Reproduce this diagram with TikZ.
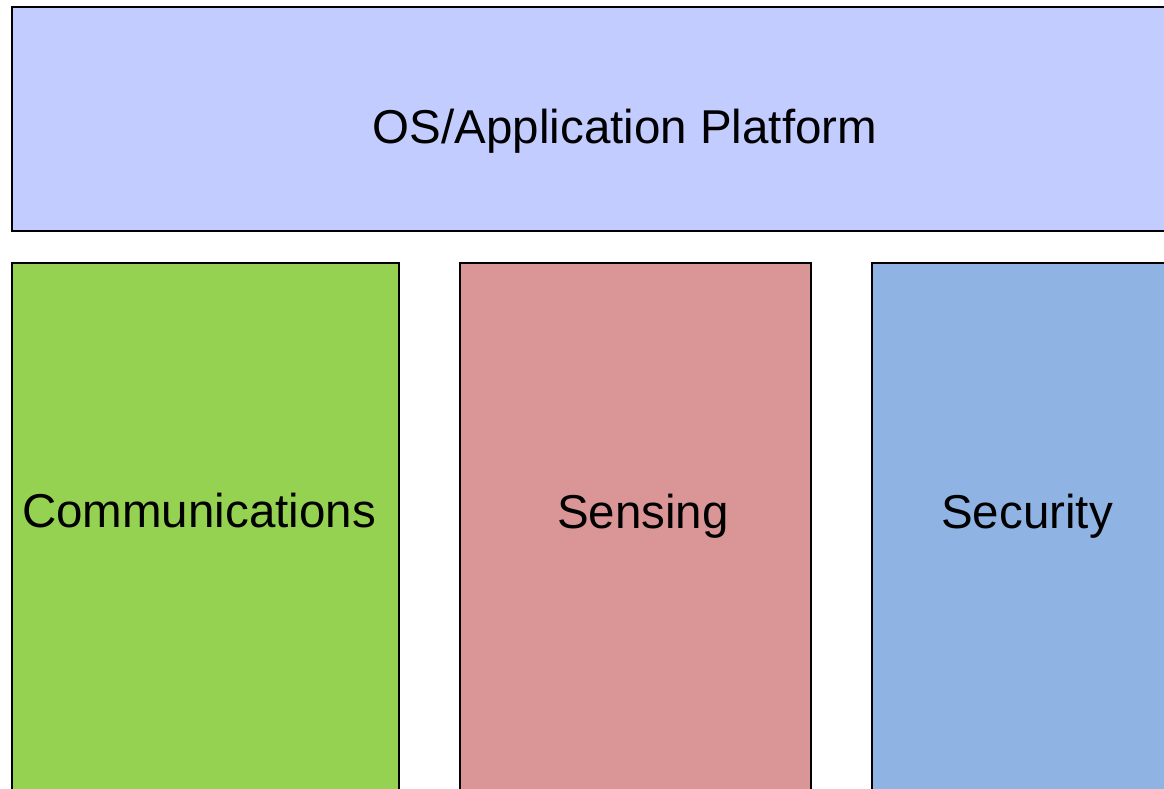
\documentclass[tikz,border=0pt]{standalone}
\usepackage{fontspec}
\setmainfont{Liberation Sans}
\definecolor{platformfill}{HTML}{C2CCFF}
\definecolor{commfill}{HTML}{95D251}
\definecolor{sensefill}{HTML}{DA9696}
\definecolor{secfill}{HTML}{8FB3E3}
\tikzset{
  block/.style={draw=black, line width=2pt},
  caption/.style={inner sep=0pt, anchor=base, font=\fontsize{47.5}{57}\selectfont},
}
\begin{document}
\begin{tikzpicture}[x=1pt, y=-1pt]
  \useasboundingbox (0,0) rectangle (1164,788);
  \clip (0,0) rectangle (1164,788);
  % platform layer across the top
  \draw[block, fill=platformfill] (12,7) rectangle (1240,231);
  \node[caption] (platform) at (625,143) {OS/Application Platform};
  % three service columns underneath
  \draw[block, fill=commfill] (12,263) rectangle (399,820);
  \draw[block, fill=sensefill] (460,263) rectangle (811,820);
  \draw[block, fill=secfill] (872,263) rectangle (1240,820);
  \node[caption] (comm) at (199,527) {Communications};
  \node[caption] (sense) at (643,528) {Sensing};
  \node[caption] (sec) at (1027,528) {Security};
\end{tikzpicture}
\end{document}
